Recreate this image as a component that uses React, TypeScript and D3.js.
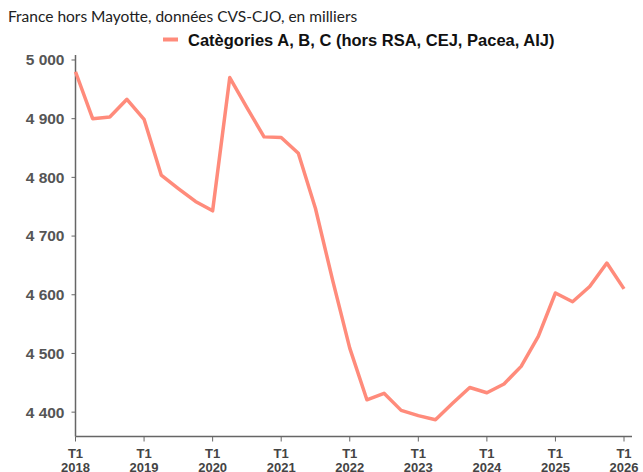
import React, { useEffect, useRef } from 'react';
import * as d3 from 'd3';

// quarterly series, 2018 T1 -> 2026 T1, in thousands
const quarters = d3.range(0, 33);
const values = [
  4980, 4900, 4903, 4933,
  4899, 4804, 4781, 4759,
  4743, 4970, 4919, 4869,
  4868, 4841, 4747, 4625,
  4509, 4421, 4432, 4403,
  4394, 4387, 4415, 4442,
  4433, 4448, 4478, 4529,
  4603, 4588, 4614, 4654,
  4610,
];
const yearTicks = [2018, 2019, 2020, 2021, 2022, 2023, 2024, 2025, 2026];
const yTicks = [4400, 4500, 4600, 4700, 4800, 4900, 5000];

const title = 'France hors Mayotte, données CVS-CJO, en milliers';
const seriesName = 'Catègories A, B, C (hors RSA, CEJ, Pacea, AIJ)';

const width = 643;
const height = 472;
const lineColor = '#ff8b7b';

const App = () => {
  const ref = useRef<SVGSVGElement>(null);

  useEffect(() => {
    const svg = d3.select(ref.current);
    svg.selectAll('*').remove();

    const x = d3.scaleLinear().domain([0, 32]).range([75.5, 624]);
    const y = d3.scaleLinear().domain([4358.5, 5008.5]).range([436.5, 55]);

    // title
    svg.append('text')
      .attr('x', 8)
      .attr('y', 22)
      .attr('font-family', 'Lato, sans-serif')
      .attr('font-size', 15.5)
      .attr('fill', '#222')
      .text(title);

    // legend
    svg.append('line')
      .attr('x1', 163).attr('x2', 178)
      .attr('y1', 39.5).attr('y2', 39.5)
      .attr('stroke', lineColor)
      .attr('stroke-width', 4);
    svg.append('text')
      .attr('x', 188)
      .attr('y', 46)
      .attr('font-family', '"Liberation Sans", Arial, sans-serif')
      .attr('font-weight', 'bold')
      .attr('font-size', 16.5)
      .attr('fill', '#111')
      .text(seriesName);

    // y axis
    const yAxis = svg.append('g').attr('transform', 'translate(75.5,0)');
    yAxis.append('line')
      .attr('y1', 55).attr('y2', 436.5)
      .attr('stroke', '#666').attr('stroke-width', 1.5);
    yAxis.selectAll('.yt')
      .data(yTicks)
      .join('line')
      .attr('class', 'yt')
      .attr('x1', -4).attr('x2', 0)
      .attr('y1', d => y(d)).attr('y2', d => y(d))
      .attr('stroke', '#666');
    yAxis.selectAll('.yl')
      .data(yTicks)
      .join('text')
      .attr('class', 'yl')
      .attr('x', -11)
      .attr('y', d => y(d))
      .attr('dy', '0.35em')
      .attr('text-anchor', 'end')
      .attr('font-family', '"Liberation Sans", Arial, sans-serif')
      .attr('font-weight', 'bold')
      .attr('font-size', 15.5)
      .attr('fill', '#555')
      .text(d => d3.format(',')(d).replace(',', ' '));

    // x axis
    const xAxis = svg.append('g').attr('transform', 'translate(0,436.5)');
    xAxis.append('line')
      .attr('x1', 75.5).attr('x2', 632)
      .attr('stroke', '#666').attr('stroke-width', 1.5);
    const xt = xAxis.selectAll('.xt')
      .data(yearTicks)
      .join('g')
      .attr('class', 'xt')
      .attr('transform', d => `translate(${x((d - 2018) * 4)},0)`);
    xt.append('line').attr('y1', 0).attr('y2', 5).attr('stroke', '#666');
    xt.append('text')
      .attr('y', 21)
      .attr('text-anchor', 'middle')
      .attr('font-family', '"Liberation Sans", Arial, sans-serif')
      .attr('font-weight', 'bold')
      .attr('font-size', 13)
      .attr('fill', '#444')
      .text('T1');
    xt.append('text')
      .attr('y', 35)
      .attr('text-anchor', 'middle')
      .attr('font-family', '"Liberation Sans", Arial, sans-serif')
      .attr('font-weight', 'bold')
      .attr('font-size', 13)
      .attr('fill', '#444')
      .text(d => d);

    // series line
    const line = d3.line<number>()
      .x((_, i) => x(quarters[i]))
      .y(d => y(d));
    svg.append('path')
      .datum(values)
      .attr('d', line)
      .attr('fill', 'none')
      .attr('stroke', lineColor)
      .attr('stroke-width', 3.5)
      .attr('stroke-linejoin', 'round');
  }, []);

  return (
    <svg ref={ref} width={width} height={height}
      style={{ position: 'absolute', left: 0, top: 0, background: '#fff' }} />
  );
};

export default App;
